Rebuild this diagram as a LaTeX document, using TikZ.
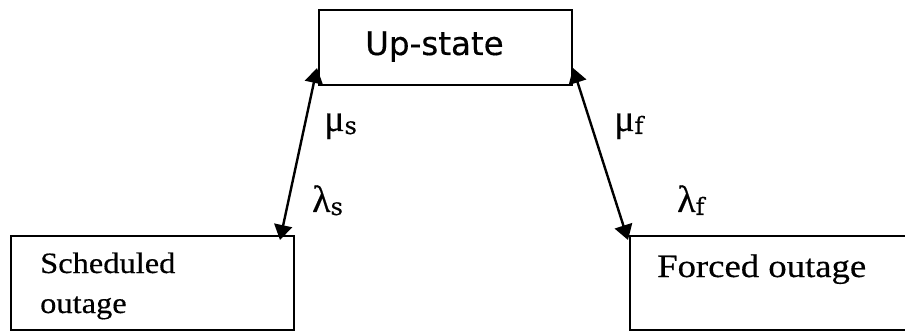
\documentclass[tikz,border=0pt]{standalone}
\usepackage{fontspec}
\usetikzlibrary{arrows.meta}
\newfontfamily\upfont[FakeBold=0.4]{DejaVu Sans}
\newfontfamily\tnrs[FakeStretch=1.1,FakeBold=0.4]{Liberation Serif}
\newfontfamily\tnrf[FakeStretch=1.13,FakeBold=0.4]{Liberation Serif}
\newfontfamily\grk[FakeBold=0.4]{Liberation Serif}
\newfontfamily\subfnt[FakeBold=0.4]{DejaVu Serif}
\newcommand\ratelab[2]{{\grk\fontsize{38}{38}\selectfont #1}\raisebox{-3pt}{\subfnt\fontsize{24}{24}\selectfont #2}}
\begin{document}
\begin{tikzpicture}[x=1pt,y=-1pt,
  box/.style={draw,line width=1.7pt,inner sep=0pt,anchor=north west},
  conn/.style={line width=2.4pt,{Triangle[length=15pt,width=18pt]}-{Triangle[length=15pt,width=18pt]}},
  lab/.style={anchor=base west,inner sep=0pt}]
\useasboundingbox (0,0) rectangle (905,331);
\fill[white] (0,0) rectangle (905,331);
% boxes
\node[box,minimum width=253pt,minimum height=75pt] (up) at (318,9) {};
\node[box,minimum width=283pt,minimum height=94pt] (sched) at (10,235) {};
\node[box,minimum width=290pt,minimum height=94pt] (forced) at (629,235) {};
% texts
\node[lab,font=\upfont\fontsize{32.5}{32.5}\selectfont] (uptxt) at (365,55) {Up-state};
\node[lab,font=\tnrs\fontsize{29.5}{40}\selectfont] (schedtxt) at (40,273)
  {\vtop{\baselineskip=40pt\hbox{Scheduled}\hbox{outage}}};
\node[lab,font=\tnrf\fontsize{32.5}{32.5}\selectfont] (forcedtxt) at (657,277) {Forced outage};
% connector end points
\coordinate (s1) at (280,240);
\coordinate (s2) at (317,68);
\coordinate (f1) at (573,68);
\coordinate (f2) at (628,240);
\draw[conn] (s1) -- (s2);
\draw[conn] (f1) -- (f2);
% rate labels
\node[lab] (mus) at (324,131) {\ratelab{μ}{s}};
\node[lab] (lams) at (312,212) {\ratelab{λ}{s}};
\node[lab] (muf) at (614,131) {\ratelab{μ}{f}};
\node[lab] (lamf) at (677,212) {\ratelab{λ}{f}};
\end{tikzpicture}
\end{document}
